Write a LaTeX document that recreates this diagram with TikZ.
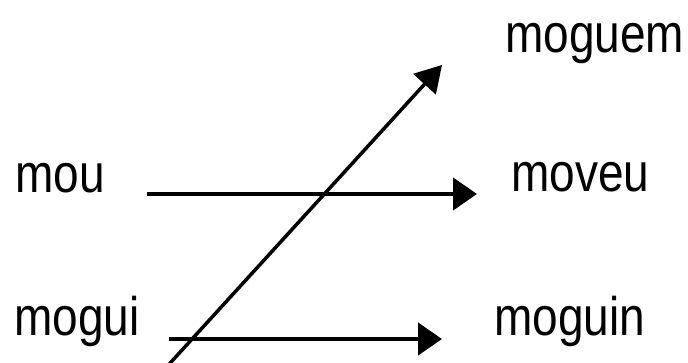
\documentclass[tikz,border=0pt]{standalone}
\usepackage{fontspec}
\setmainfont{Liberation Sans}
\usepackage{graphicx}
\usetikzlibrary{arrows.meta}
\begin{document}
\begin{tikzpicture}[x=1pt,y=1pt,
  word/.style={anchor=base west,inner sep=0pt,font=\fontsize{46}{50}\selectfont},
  arr/.style={line width=4.5pt,-{Triangle[length=24pt,width=32pt]}},
  diag/.style={line width=3.5pt,-{Triangle[length=26pt,width=30pt]}}]
\useasboundingbox (0,0) rectangle (688,362);
\clip (0,0) rectangle (688,362);
\node[word] (moguem) at (505,309) {\scalebox{1}[1.18]{moguem}};
\node[word] (mou) at (15,169) {\scalebox{1}[1.18]{mou}};
\node[word] (moveu) at (511,170) {\scalebox{1}[1.18]{moveu}};
\node[word] (mogui) at (14,27) {\scalebox{1}[1.18]{mogui}};
\node[word] (moguin) at (494,27) {\scalebox{1}[1.18]{moguin}};
\coordinate (a1s) at (147,168);
\coordinate (a1e) at (477,168);
\coordinate (a2s) at (169,23);
\coordinate (a2e) at (442,23);
\coordinate (dS) at (162,-10);
\coordinate (dE) at (442,297);
\draw[arr] (a1s) -- (a1e);
\draw[arr] (a2s) -- (a2e);
\draw[diag] (dS) -- (dE);
\end{tikzpicture}
\end{document}
